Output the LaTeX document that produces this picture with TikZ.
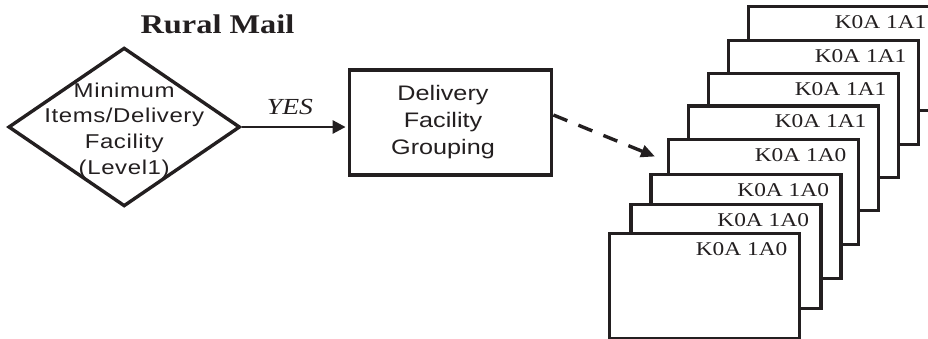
\documentclass[tikz,border=0pt]{standalone}
\usepackage{fontspec}
\newfontfamily\serifw{Liberation Serif}[FakeStretch=1.2]
\newfontfamily\sansw{Liberation Sans}[FakeStretch=1.2]
\newfontfamily\sanswide{Liberation Sans}[FakeStretch=1.2, LetterSpace=3]
\usetikzlibrary{shapes.geometric,arrows.meta,calc}
\definecolor{ink}{HTML}{231F20}
\begin{document}
\begin{tikzpicture}[x=1pt,y=-1pt,
  every node/.style={inner sep=0pt, text=ink},
  outline/.style={draw=ink, line width=3.4pt},
  card/.style={outline, fill=white, minimum width=190pt, minimum height=104.5pt, anchor=north west},
  cardtext/.style={anchor=base east, font=\serifw\fontsize{19.5}{19.5}\selectfont},
  flowtext/.style 2 args={align=center, font=\fontsize{#1}{#2}\selectfont},
  solidarrow/.style={draw=ink, line width=2.8pt, -{Triangle[length=13pt,width=13pt]}},
  dasharrow/.style={draw=ink, line width=3.4pt, dash pattern=on 15pt off 12pt, -{Triangle[length=14pt,width=12pt]}}
]
\useasboundingbox (0,0) rectangle (928,338);
\clip (0,0) rectangle (928,338);

% title
\node[font=\serifw\bfseries\fontsize{27}{27}\selectfont, anchor=base] (title) at (217.5,33.3) {Rural Mail};

% decision
\node[diamond, outline, minimum width=231.7pt, minimum height=158.7pt] (dia) at (124.2,127) {};
\node[flowtext={20}{25.6}] (diatext) at (124.2,130.5) {\sanswide Minimum\\\sanswide Items/Delivery\\\sanswide Facility\\\sanswide (Level1)};

% grouping box
\node[outline, minimum width=202.4pt, minimum height=105pt] (dfg) at (450.5,122.5) {};
\node[flowtext={21}{27}] (dfgtext) at (443,122) {\sansw Delivery\\\sansw Facility\\\sansw Grouping};

% yes branch
\draw[solidarrow, shorten >=2pt] (dia.east) -- (dia.east -| dfg.west);
\node[font=\serifw\itshape\fontsize{23}{23}\selectfont, anchor=base] (yes) at (290,114) {YES};

% stack of postal-code cards, back to front
\foreach \i/\x/\y/\t in {1/746.7/4.5/K0A 1A1, 2/726.7/38.5/K0A 1A1, 3/706.7/71.5/K0A 1A1,
                         4/686.7/104.3/K0A 1A1, 5/666.7/138/K0A 1A0, 6/649.3/172.5/K0A 1A0,
                         7/629.3/202.5/K0A 1A0, 8/607.7/232/K0A 1A0} {
  \node[card] (card\i) at (\x,\y) {};
  \node[cardtext] (code\i) at ($(card\i.north east)+(-13.5,23.5)$) {\t};
}

% dashed link into the stack
\coordinate (into) at (655,156.5);
\draw[dasharrow] ([yshift=7.5pt]dfg.east) -- (into);
\end{tikzpicture}
\end{document}
